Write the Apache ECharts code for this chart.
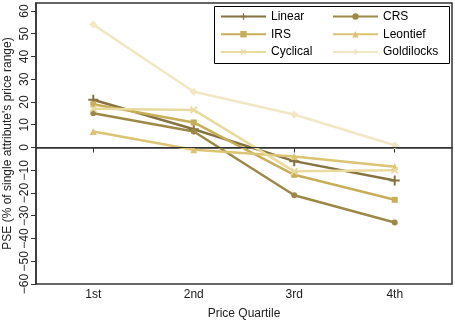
<!DOCTYPE html>
<html><head><meta charset="utf-8">
<script src="https://cdn.jsdelivr.net/npm/echarts@6/dist/echarts.min.js"></script>
<style>html,body{margin:0;padding:0;background:#fff}#c{width:455px;height:324px}</style>
</head><body><div id="c"></div>
<script>
const categories = ['1st', '2nd', '3rd', '4th'];
const yTicks = [-60, -50, -40, -30, -20, -10, 0, 10, 20, 30, 40, 50, 60];
const linear = [21, 8, -6, -14.5];
const crs = [15, 7, -21, -33];
const irs = [19, 11, -12, -23];
const leontief = [7, -1, -4, -8.5];
const cyclical = [17, 16.5, -10.5, -10];
const goldilocks = [54, 24.5, 14.5, 1];

const plus = 'path://M4,0H6V4H10V6H6V10H4V6H0V4H4Z';
const defs = [
  {name: 'Linear', data: linear, color: '#857340', symbol: plus, size: 10, rot: 0},
  {name: 'CRS', data: crs, color: '#9d8947', symbol: 'circle', size: 6, rot: 0},
  {name: 'IRS', data: irs, color: '#c7ae59', symbol: 'rect', size: 6, rot: 0},
  {name: 'Leontief', data: leontief, color: '#dbc473', symbol: 'triangle', size: 7, rot: 0},
  {name: 'Cyclical', data: cyclical, color: '#e9da9e', symbol: plus, size: 9, rot: 45},
  {name: 'Goldilocks', data: goldilocks, color: '#f2e7c4', symbol: 'diamond', size: 8, rot: 0}
];
const font = 'Liberation Sans, Arial, sans-serif';
const series = defs.map((d, i) => ({
  name: d.name, type: 'line',
  data: d.data.map((v, j) => [j + 1, v]),
  symbol: d.symbol, symbolSize: d.size, symbolRotate: d.rot, showAllSymbol: true,
  itemStyle: {color: d.color},
  lineStyle: {color: d.color, width: 2.5},
  z: 2,
  animation: false
}));
series.push({
  type: 'line', data: [], silent: true, animation: false,
  markLine: {symbol: 'none', silent: true, label: {show: false},
    lineStyle: {color: '#333', width: 1.2, type: 'solid'},
    data: [{yAxis: 0}]}
});
const legendBase = {
  top: 9.5, orient: 'vertical', z: 20,
  itemWidth: 45, itemHeight: 8, itemGap: 3.7, padding: 0,
  textStyle: {fontFamily: font, fontSize: 12, color: '#000', lineHeight: 14}
};
const chart = echarts.init(document.getElementById('c'));
chart.setOption({
  animation: false,
  backgroundColor: '#fff',
  grid: {left: 36, right: 3, top: 3, bottom: 40, show: true, borderColor: '#333', borderWidth: 1.5,
    outerBoundsMode: 'none', containLabel: false},
  graphic: {z: 10, elements: [{type: 'rect', left: 214, top: 6,
    shape: {width: 235, height: 57},
    style: {fill: '#fff', stroke: '#000', lineWidth: 1}}]},
  legend: [
    Object.assign({}, legendBase, {left: 220, data: defs.filter((d, i) => i % 2 === 0).map(d => d.name)}),
    Object.assign({}, legendBase, {left: 332, data: defs.filter((d, i) => i % 2 === 1).map(d => d.name)})
  ],
  xAxis: {
    type: 'value', min: 0.43, max: 4.57,
    name: 'Price Quartile', nameLocation: 'middle', nameGap: 24, nameMoveOverlap: false,
    nameTextStyle: {fontFamily: font, fontSize: 12, color: '#222'},
    splitLine: {show: false},
    axisLine: {show: true, lineStyle: {color: '#333', width: 1.5}},
    axisTick: {show: true, customValues: [1, 2, 3, 4], length: 5, lineStyle: {color: '#333'}},
    axisLabel: {customValues: [1, 2, 3, 4], formatter: v => categories[Math.round(v) - 1],
      fontFamily: font, fontSize: 12, color: '#222', margin: 5}
  },
  yAxis: {
    type: 'value', min: -60, max: 63.5,
    name: "PSE (% of single attribute's price range)", nameLocation: 'middle', nameGap: 22,
    nameMoveOverlap: false,
    nameTextStyle: {fontFamily: font, fontSize: 12, color: '#222'},
    splitLine: {show: false},
    axisLine: {show: true, lineStyle: {color: '#333', width: 1.5}},
    axisTick: {show: true, customValues: yTicks, length: 5, lineStyle: {color: '#333'}},
    axisLabel: {customValues: yTicks, rotate: 90, margin: 5,
      formatter: v => (v < 0 ? '\u2212' + Math.abs(v) : String(v)),
      fontFamily: font, fontSize: 12, color: '#222'}
  },
  series: series
});
</script></body></html>
